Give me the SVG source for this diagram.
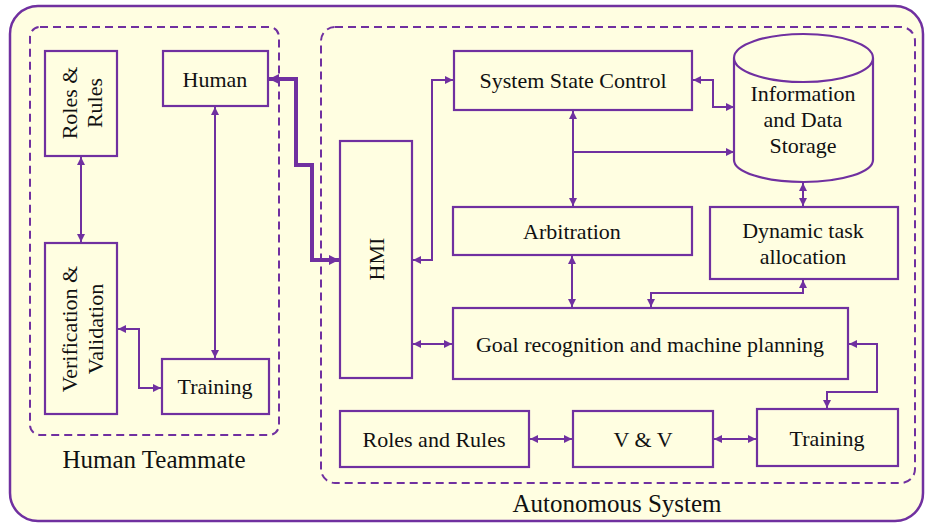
<svg xmlns="http://www.w3.org/2000/svg" width="926" height="523" viewBox="0 0 926 523">
<style>
.box{fill:none;stroke:#7030A0;stroke-width:2.2}
.dash{fill:none;stroke:#7030A0;stroke-width:2;stroke-dasharray:8 5}
.t{font-family:"Liberation Serif","Times New Roman",serif;font-size:22px;fill:#111;text-anchor:middle}
.lbl{font-family:"Liberation Serif","Times New Roman",serif;font-size:25px;fill:#111;text-anchor:middle}
.c{fill:none;stroke:#7030A0;stroke-width:2;marker-start:url(#a);marker-end:url(#a)}
.c1{fill:none;stroke:#7030A0;stroke-width:2;marker-end:url(#a)}
.ct{fill:none;stroke:#7030A0;stroke-width:4;marker-start:url(#ab);marker-end:url(#ab)}
</style>
<defs>
<marker id="a" viewBox="0 0 10 10" refX="10" refY="5" markerWidth="9" markerHeight="8" markerUnits="userSpaceOnUse" orient="auto-start-reverse"><path d="M0,0 L10,5 L0,10 z" fill="#7030A0"/></marker>
<marker id="ab" viewBox="0 0 10 10" refX="10" refY="5" markerWidth="11" markerHeight="10" markerUnits="userSpaceOnUse" orient="auto-start-reverse"><path d="M0,0 L10,5 L0,10 z" fill="#7030A0"/></marker>
</defs>
<rect x="10" y="6" width="913" height="515" rx="28" fill="#FFFEE1" stroke="#7030A0" stroke-width="2.5"/>
<g id="human-teammate">
<rect class="dash" x="30" y="27" width="249" height="408" rx="10"/>
<text class="lbl" x="154" y="468">Human Teammate</text>
</g>
<g id="autonomous-system">
<rect class="dash" x="321" y="27" width="594" height="456" rx="14"/>
<text class="lbl" x="617" y="512">Autonomous System</text>
</g>
<g id="roles-rules">
<rect class="box" x="45" y="51" width="72" height="105"/>
<text class="t" transform="translate(81,103) rotate(-90)"><tspan x="0" y="-4">Roles &amp;</tspan><tspan x="0" y="21">Rules</tspan></text>
</g>
<g id="human">
<rect class="box" x="163" y="51" width="105" height="55"/>
<text class="t" x="215" y="87">Human</text>
</g>
<g id="vv-left">
<rect class="box" x="45" y="243" width="72" height="171"/>
<text class="t" transform="translate(81,329) rotate(-90)"><tspan x="0" y="-4">Verification &amp;</tspan><tspan x="0" y="22">Validation</tspan></text>
</g>
<g id="training-left">
<rect class="box" x="162" y="359" width="107" height="55"/>
<text class="t" x="215" y="394">Training</text>
</g>
<g id="hmi">
<rect class="box" x="340" y="141" width="72" height="237"/>
<text class="t" transform="translate(376,259) rotate(-90)" y="7.5">HMI</text>
</g>
<g id="system-state-control">
<rect class="box" x="454" y="51" width="238" height="59"/>
<text class="t" x="573" y="88">System State Control</text>
</g>
<g id="storage">
<path class="box" d="M734,58 V160 A69.5,22 0 0 0 873,160 V58 A69.5,24 0 0 0 734,58 Z M734,58 A69.5,24 0 0 0 873,58"/>
<text class="t" x="803" y="101">Information</text>
<text class="t" x="803" y="127">and Data</text>
<text class="t" x="803" y="153">Storage</text>
</g>
<g id="arbitration">
<rect class="box" x="453" y="207" width="239" height="48"/>
<text class="t" x="572" y="239">Arbitration</text>
</g>
<g id="dynamic-task-allocation">
<rect class="box" x="710" y="207" width="188" height="72"/>
<text class="t" x="803" y="238">Dynamic task</text>
<text class="t" x="803" y="264">allocation</text>
</g>
<g id="goal">
<rect class="box" x="453" y="308" width="395" height="71"/>
<text class="t" x="650" y="352">Goal recognition and machine planning</text>
</g>
<g id="roles-and-rules">
<rect class="box" x="340" y="411" width="189" height="56"/>
<text class="t" x="434" y="447">Roles and Rules</text>
</g>
<g id="vv">
<rect class="box" x="573" y="411" width="140" height="56"/>
<text class="t" x="643" y="447">V &amp; V</text>
</g>
<g id="training-right">
<rect class="box" x="757" y="409" width="141" height="57"/>
<text class="t" x="827" y="446">Training</text>
</g>
<g id="connectors">
<path class="c" d="M81,157 V242"/>
<path class="c" d="M215,107 V358"/>
<path class="c" d="M118,329 H139 V388 H161"/>
<path class="ct" d="M269,79 H296 V165 H312 V260 H339"/>
<path class="c" d="M413,260 H432 V80 H453"/>
<path class="c" d="M693,80 H713 V107 H734"/>
<path class="c" d="M573,111 V206"/>
<path class="c1" d="M573,152 H734"/>
<path class="c" d="M803,183 V206"/>
<path class="c" d="M572,256 V307"/>
<path class="c" d="M803,280 V293 H651 V307"/>
<path class="c" d="M413,344 H452"/>
<path class="c" d="M849,344 H877 V392 H827 V408"/>
<path class="c" d="M530,439 H572"/>
<path class="c" d="M714,439 H756"/>
</g>
</svg>
